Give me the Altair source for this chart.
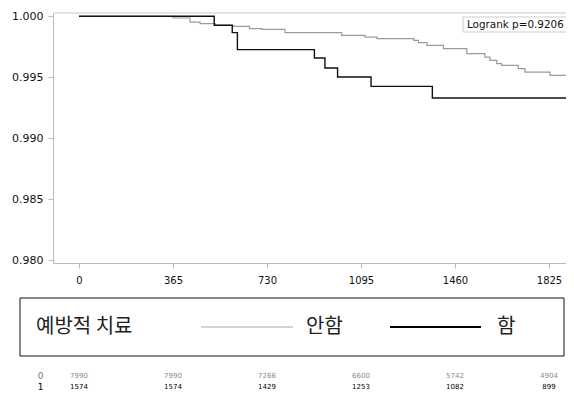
import altair as alt
import pandas as pd

# ---- data ----
days_no = [0, 366, 431, 470, 529, 598, 662, 710, 800, 1020, 1111, 1157, 1300, 1318,
           1351, 1415, 1506, 1576, 1596, 1622, 1641, 1706, 1732, 1829, 1891]
surv_no = [1.0, 0.99986, 0.99953, 0.9994, 0.99926, 0.99918, 0.99899, 0.99893, 0.99866,
           0.99844, 0.9983, 0.99817, 0.99803, 0.99784, 0.99762, 0.99735, 0.99694,
           0.99666, 0.99639, 0.99612, 0.99598, 0.99571, 0.99543, 0.99516, 0.99516]
days_yes = [0, 525, 595, 615, 914, 955, 1004, 1134, 1372, 1891]
surv_yes = [1.0, 0.99926, 0.99866, 0.99727, 0.99658, 0.99576, 0.99503, 0.99426, 0.99330, 0.99330]

x_ticks = [0, 365, 730, 1095, 1460, 1825]
y_ticks = [0.980, 0.985, 0.990, 0.995, 1.000]
risk_no = [7990, 7990, 7266, 6600, 5742, 4904]
risk_yes = [1574, 1574, 1429, 1253, 1082, 899]
group_labels = ["안함", "함"]
row_labels = ["0", "1"]
legend_title = "예방적 치료"
logrank_text = "Logrank p=0.9206"

W, H = 513, 250
FONT = "DejaVu Sans"
KFONT = "Noto Sans CJK KR"

df_no = pd.DataFrame({"day": days_no, "surv": surv_no})
df_yes = pd.DataFrame({"day": days_yes, "surv": surv_yes})
df_risk_no = pd.DataFrame({"day": x_ticks, "n": [str(v) for v in risk_no]})
df_risk_yes = pd.DataFrame({"day": x_ticks, "n": [str(v) for v in risk_yes]})
one = pd.DataFrame({"k": [0]})

x_enc = alt.X("day:Q",
              scale=alt.Scale(domain=[-101, 1891], nice=False, zero=False),
              axis=alt.Axis(values=x_ticks, title=None, grid=False, format="d",
                            labelFont=FONT, labelFontSize=10, labelColor="#111",
                            tickColor="#bbbbbb", domainColor="#bbbbbb", tickSize=5,
                            labelPadding=7, labelFlush=False))
y_enc = alt.Y("surv:Q",
              scale=alt.Scale(domain=[0.97978, 1.00027], nice=False, zero=False),
              axis=alt.Axis(values=y_ticks, title=None, grid=False, format=".3f",
                            labelFont=FONT, labelFontSize=11, labelColor="#111",
                            tickColor="#bbbbbb", domainColor="#bbbbbb", tickSize=5,
                            labelPadding=5, labelFlush=False))

line_no = alt.Chart(df_no).mark_line(interpolate="step-after", color="#9a9a9a",
                                     strokeWidth=1.2, clip=True).encode(x=x_enc, y=y_enc)
line_yes = alt.Chart(df_yes).mark_line(interpolate="step-after", color="#111111",
                                       strokeWidth=1.4, clip=True).encode(x=x_enc, y=y_enc)

top_border = alt.Chart(one).mark_rule(color="#c8c8c8", strokeWidth=1).encode(
    x=alt.value(0), x2=alt.value(W), y=alt.value(0))

lr_box = alt.Chart(one).mark_rect(fill="white", stroke="#cccccc", strokeWidth=1).encode(
    x=alt.value(410), x2=alt.value(540), y=alt.value(4), y2=alt.value(19))
lr_text = alt.Chart(one).mark_text(align="left", baseline="middle", font=FONT,
                                   fontSize=10.4, color="#111").encode(
    x=alt.value(414), y=alt.value(11.5), text=alt.value(logrank_text))

# legend box below the plot
leg_box = alt.Chart(one).mark_rect(fill="white", stroke="#111", strokeWidth=1).encode(
    x=alt.value(-33), x2=alt.value(511), y=alt.value(285), y2=alt.value(343))
leg_title = alt.Chart(one).mark_text(align="left", baseline="middle", font=KFONT,
                                     fontSize=20, color="#222").encode(
    x=alt.value(-17), y=alt.value(314), text=alt.value(legend_title))
leg_line_no = alt.Chart(one).mark_rule(color="#d4d4d4", strokeWidth=2).encode(
    x=alt.value(148), x2=alt.value(240), y=alt.value(314))
leg_text_no = alt.Chart(one).mark_text(align="left", baseline="middle", font=KFONT,
                                       fontSize=20, color="#222").encode(
    x=alt.value(253), y=alt.value(314), text=alt.value(group_labels[0]))
leg_line_yes = alt.Chart(one).mark_rule(color="#000000", strokeWidth=2).encode(
    x=alt.value(337), x2=alt.value(428), y=alt.value(314))
leg_text_yes = alt.Chart(one).mark_text(align="left", baseline="middle", font=KFONT,
                                        fontSize=20, color="#222").encode(
    x=alt.value(444), y=alt.value(314), text=alt.value(group_labels[1]))

# number-at-risk table
R0, R1 = 363, 374
risk0 = alt.Chart(df_risk_no).mark_text(baseline="middle", font=FONT, fontSize=7,
                                        color="#8a8a8a").encode(
    x=x_enc, y=alt.value(R0), text="n:N")
risk1 = alt.Chart(df_risk_yes).mark_text(baseline="middle", font=FONT, fontSize=7,
                                         color="#000000").encode(
    x=x_enc, y=alt.value(R1), text="n:N")
row0 = alt.Chart(one).mark_text(baseline="middle", font=FONT, fontSize=9,
                                color="#777").encode(
    x=alt.value(-12.5), y=alt.value(R0), text=alt.value(row_labels[0]))
row1 = alt.Chart(one).mark_text(baseline="middle", font=FONT, fontSize=9,
                                color="#000").encode(
    x=alt.value(-12.5), y=alt.value(R1), text=alt.value(row_labels[1]))

chart = alt.layer(
    top_border, line_no, line_yes, lr_box, lr_text,
    leg_box, leg_title, leg_line_no, leg_text_no, leg_line_yes, leg_text_yes,
    risk0, risk1, row0, row1,
).properties(
    width=W, height=H,
    autosize=alt.AutoSizeParams(type="none"),
    padding={"left": 45, "top": 5, "right": 0, "bottom": 128},
).configure_view(stroke=None)

chart.save("out.html", embed_options={"renderer": "svg", "actions": False})
